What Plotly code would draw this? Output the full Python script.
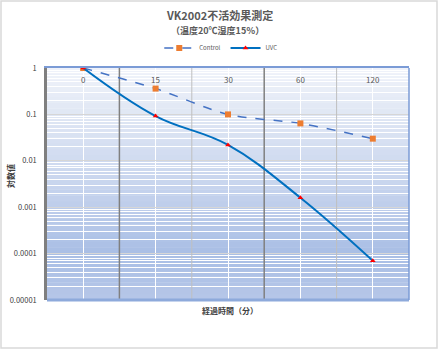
import plotly.graph_objects as go

# Elapsed time categories (minutes) and measured log values
time_labels = ["0", "15", "30", "60", "120"]
control_values = [1.0, 0.36, 0.10, 0.064, 0.030]
uvc_values = [1.0, 0.092, 0.022, 0.0016, 0.00007]

y_tick_values = [1, 0.1, 0.01, 0.001, 0.0001, 0.00001]
y_tick_labels = ["1", "0.1", "0.01", "0.001", "0.0001", "0.00001"]

W, H = 438, 349
M_L, M_R, M_T, M_B = 47, 29, 68, 49
FONT = "Noto Sans CJK JP"
TXT = "#595959"

idx = list(range(len(time_labels)))
pw, ph = W - M_L - M_R, H - M_T - M_B

fig = go.Figure()

# category boundary lines, alternating dark / light, drawn beneath the series
y_lo, y_hi = min(y_tick_values), max(y_tick_values)
for i in idx[:-1]:
    dark = i % 2 == 0
    fig.add_trace(go.Scatter(
        x=[i + 0.5, i + 0.5], y=[y_lo, y_hi], mode="lines", showlegend=False,
        hoverinfo="skip", line=dict(color="#808080" if dark else "#bfbfbf",
                                    width=1.5 if dark else 1)))

fig.add_trace(go.Scatter(
    x=idx, y=control_values, name="Control", mode="lines+markers",
    line=dict(color="#4472c4", width=1.5, dash="dash", shape="spline", smoothing=0.8),
    marker=dict(symbol="square", size=6, color="#ed7d31"),
))
fig.add_trace(go.Scatter(
    x=idx, y=uvc_values, name="UVC", mode="lines+markers",
    line=dict(color="#0070c0", width=2, shape="spline", smoothing=1.1),
    marker=dict(symbol="triangle-up", size=5, color="#ff0000"),
))

# vertical gradient of the plot area background
def hex2rgb(h):
    h = h.lstrip("#")
    return tuple(int(h[i:i + 2], 16) for i in (0, 2, 4))

stops = [(0.0, "#b6c7e8"), (0.2, "#a9bee5"), (0.5, "#c8d5ee"), (0.8, "#e0e7f4"), (1.0, "#f0f3fa")]
def color_at(t):
    for (a, ca), (b, cb) in zip(stops[:-1], stops[1:]):
        if a <= t <= b:
            f = (t - a) / (b - a)
            r1, r2 = hex2rgb(ca), hex2rgb(cb)
            return "rgb(%d,%d,%d)" % tuple(round(p + (q - p) * f) for p, q in zip(r1, r2))
    return stops[-1][1]

shapes = []
n_bands = 40
for k in range(n_bands):
    y0, y1 = k / n_bands, (k + 1) / n_bands
    shapes.append(dict(type="rect", xref="x domain", yref="y domain", x0=0, x1=1,
                       y0=y0, y1=y1 + 0.002, fillcolor=color_at((y0 + y1) / 2),
                       line=dict(width=0), layer="below"))

# plot area borders: bottom and right
shapes.append(dict(type="line", xref="x domain", yref="y domain", x0=0, x1=1, y0=0, y1=0,
                   line=dict(color="#8eaadb", width=3)))
shapes.append(dict(type="line", xref="x domain", yref="y domain", x0=1, x1=1, y0=0, y1=1,
                   line=dict(color="#7b9bd6", width=1.5)))

# outer chart border
shapes.append(dict(type="rect", xref="paper", yref="paper",
                   x0=-(M_L - 1) / pw, x1=1 + (M_R - 1) / pw,
                   y0=-(M_B - 1) / ph, y1=1 + (M_T - 1) / ph,
                   line=dict(color="#d9d9d9", width=1.5), fillcolor="rgba(0,0,0,0)"))

annotations = [
    dict(text="<b>VK2002不活効果測定</b>", xref="paper", yref="paper",
         x=(219 - M_L) / pw, y=1 + (M_T - 15) / ph, xanchor="center", yanchor="middle",
         showarrow=False, font=dict(family=FONT, size=11, color=TXT)),
    dict(text="<b>（温度20℃湿度15％）</b>", xref="paper", yref="paper",
         x=(217 - M_L) / pw, y=1 + (M_T - 30) / ph, xanchor="center", yanchor="middle",
         showarrow=False, font=dict(family=FONT, size=9, color=TXT)),
    dict(text="<b>経過時間（分）</b>", xref="paper", yref="paper",
         x=(230 - M_L) / pw, y=-(310 - (H - M_B)) / ph, xanchor="center", yanchor="middle",
         showarrow=False, font=dict(family=FONT, size=8, color="#404040")),
    dict(text="<b>対数値</b>", xref="paper", yref="paper", textangle=-90,
         x=-(M_L - 10) / pw, y=(H - M_B - 176) / ph, xanchor="center", yanchor="middle",
         showarrow=False, font=dict(family=FONT, size=8, color="#404040")),
]

# category labels sit just inside the top edge of the plot area
for i, lab in zip(idx, time_labels):
    annotations.append(dict(text=lab, xref="x", yref="paper", x=i, y=1 - 11 / ph,
                             xanchor="center", yanchor="middle", showarrow=False,
                             font=dict(family=FONT, size=8, color=TXT)))

fig.update_layout(
    width=W, height=H,
    margin=dict(l=M_L, r=M_R, t=M_T, b=M_B, autoexpand=False),
    paper_bgcolor="white", plot_bgcolor="white",
    font=dict(family=FONT, color=TXT),
    shapes=shapes, annotations=annotations,
    showlegend=True,
    legend=dict(orientation="h", x=0.48, xanchor="center", y=1 + (M_T - 48) / ph,
                yanchor="middle", font=dict(family=FONT, size=6, color=TXT),
                bgcolor="rgba(0,0,0,0)", itemwidth=30, tracegroupgap=0),
)

fig.update_xaxes(
    range=[-0.5, len(time_labels) - 0.5], tickvals=idx, ticktext=time_labels,
    side="top", showticklabels=False, ticks="",
    showgrid=True, gridcolor="#ffffff", gridwidth=1,
    showline=True, linecolor="#7b9bd6", linewidth=1.5, zeroline=False, automargin=False,
)
fig.update_yaxes(
    type="log", range=[-5, 0], tickvals=y_tick_values, ticktext=y_tick_labels,
    tickfont=dict(family=FONT, size=7.5, color="#404040"), ticks="", ticklabelstandoff=6,
    showgrid=True, gridcolor="#d6d6d6", gridwidth=1,
    minor=dict(showgrid=True, gridcolor="#ffffff", gridwidth=1, dtick="D1"),
    showline=True, linecolor="#7f7f7f", linewidth=2.5, zeroline=False, automargin=False,
)

fig.write_html("out.html")
